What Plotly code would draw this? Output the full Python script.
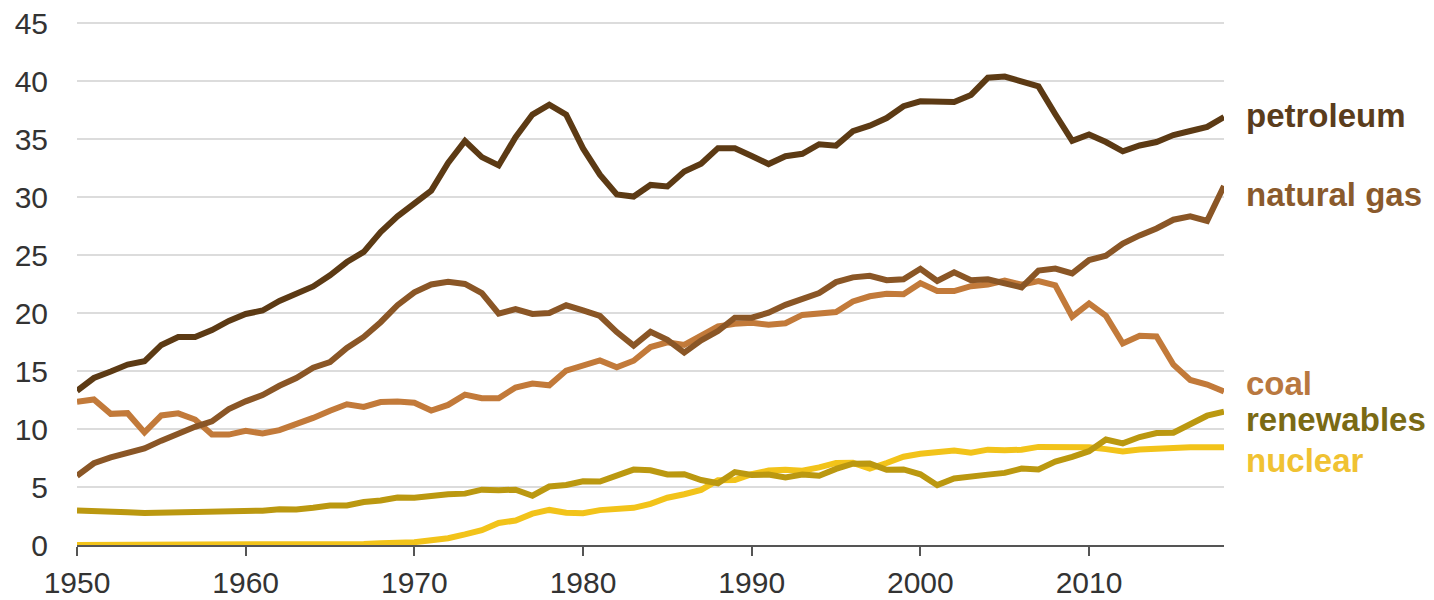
import plotly.graph_objects as go

years = list(range(1950, 2019))

petroleum = [13.3, 14.4, 14.96, 15.56, 15.84, 17.25, 17.94, 17.93, 18.53, 19.32,
             19.92, 20.22, 21.05, 21.70, 22.30, 23.25, 24.40, 25.28, 26.98, 28.34,
             29.52, 30.56, 32.95, 34.84, 33.45, 32.73, 35.17, 37.12, 37.97, 37.12,
             34.20, 31.93, 30.23, 30.05, 31.05, 30.92, 32.20, 32.87, 34.22, 34.21,
             33.55, 32.85, 33.53, 33.74, 34.56, 34.44, 35.68, 36.16, 36.82, 37.84,
             38.26, 38.19, 38.20, 38.81, 40.29, 40.39, 39.95, 39.55, 37.15, 34.85,
             35.40, 34.75, 33.95, 34.45, 34.75, 35.35, 35.70, 36.05, 36.90]

natural_gas = [5.97, 7.05, 7.55, 7.91, 8.33, 9.00, 9.61, 10.19, 10.66, 11.72,
               12.39, 12.93, 13.73, 14.40, 15.29, 15.77, 17.00, 17.94, 19.21, 20.68,
               21.79, 22.47, 22.70, 22.51, 21.73, 19.95, 20.35, 19.93, 20.00, 20.67,
               20.24, 19.75, 18.36, 17.20, 18.38, 17.70, 16.59, 17.64, 18.45, 19.60,
               19.60, 20.03, 20.71, 21.23, 21.73, 22.67, 23.08, 23.22, 22.83, 22.91,
               23.82, 22.77, 23.51, 22.83, 22.91, 22.56, 22.22, 23.66, 23.84, 23.42,
               24.57, 24.95, 26.00, 26.70, 27.30, 28.05, 28.35, 27.95, 30.96]

coal = [12.35, 12.55, 11.31, 11.37, 9.71, 11.17, 11.35, 10.82, 9.53, 9.52,
        9.84, 9.62, 9.91, 10.41, 10.96, 11.58, 12.14, 11.91, 12.33, 12.38,
        12.27, 11.60, 12.08, 12.97, 12.66, 12.66, 13.58, 13.92, 13.77, 15.04,
        15.42, 15.91, 15.32, 15.89, 17.07, 17.48, 17.26, 18.01, 18.85, 19.07,
        19.17, 18.99, 19.12, 19.84, 19.91, 20.09, 21.00, 21.45, 21.66, 21.62,
        22.58, 21.91, 21.90, 22.32, 22.47, 22.80, 22.45, 22.75, 22.39, 19.69,
        20.83, 19.76, 17.38, 18.04, 17.99, 15.55, 14.23, 13.84, 13.24]

renewables = [2.98, 2.96, 2.94, 2.83, 2.75, 2.78, 2.85, 2.85, 2.88, 2.86,
              2.93, 2.96, 3.09, 3.07, 3.21, 3.40, 3.41, 3.70, 3.84, 4.10,
              4.08, 4.27, 4.38, 4.43, 4.77, 4.72, 4.77, 4.25, 5.04, 5.17,
              5.49, 5.47, 5.99, 6.50, 6.44, 6.08, 6.11, 5.60, 5.32, 6.29,
              6.04, 6.07, 5.82, 6.08, 5.97, 6.56, 7.01, 7.02, 6.49, 6.52,
              6.10, 5.16, 5.73, 5.94, 6.07, 6.22, 6.59, 6.52, 7.19, 7.60,
              8.09, 9.10, 8.76, 9.31, 9.66, 9.68, 10.36, 11.15, 11.50]

nuclear = [0.0, 0.0, 0.0, 0.0, 0.0, 0.0, 0.0, 0.0001, 0.002, 0.002,
           0.006, 0.020, 0.026, 0.038, 0.040, 0.043, 0.064, 0.088, 0.142, 0.154,
           0.239, 0.413, 0.584, 0.910, 1.272, 1.900, 2.111, 2.702, 3.024, 2.776,
           2.739, 3.008, 3.131, 3.203, 3.553, 4.076, 4.380, 4.754, 5.587, 5.602,
           6.104, 6.422, 6.479, 6.410, 6.694, 7.075, 7.087, 6.597, 7.068, 7.610,
           7.862, 8.029, 8.145, 7.960, 8.223, 8.161, 8.215, 8.459, 8.426, 8.356,
           8.434, 8.269, 8.062, 8.244, 8.338, 8.337, 8.427, 8.419, 8.438]

series_names = ["nuclear", "renewables", "coal", "natural gas", "petroleum"]
series_values = [nuclear, renewables, coal, natural_gas, petroleum]
line_colors = ["#f2c31a", "#bb9810", "#c27a3a", "#8a5626", "#5c3a14"]
label_colors = ["#f0c232", "#7a6a14", "#b9783f", "#8a5a2c", "#5a3c1c"]
label_y = [7.3, 10.8, 13.9, 30.2, 37.0]

tick_years = [1950, 1960, 1970, 1980, 1990, 2000, 2010]
tick_y = [0, 5, 10, 15, 20, 25, 30, 35, 40, 45]

fig = go.Figure()
for name, vals, col in zip(series_names, series_values, line_colors):
    fig.add_trace(go.Scatter(x=years, y=vals, name=name, mode="lines",
                             line=dict(color=col, width=6),
                             showlegend=False, cliponaxis=False))

for name, ly, col in zip(series_names, label_y, label_colors):
    fig.add_annotation(x=2018, y=ly, xref="x", yref="y", text=name,
                       showarrow=False, xanchor="left", yanchor="middle",
                       xshift=20,
                       font=dict(family="Liberation Sans, Arial, sans-serif",
                                 size=33, color=col, weight="bold"))

fig.update_layout(
    width=1418, height=592,
    margin=dict(l=69, r=202, t=14, b=55),
    paper_bgcolor="white", plot_bgcolor="white",
    font=dict(family="Liberation Sans, Arial, sans-serif", size=30, color="#333333"),
)
fig.update_xaxes(range=[1950, 2018], tickvals=tick_years, automargin=False,
                 showgrid=False, zeroline=False,
                 showline=True, linecolor="#555555", linewidth=2,
                 ticks="outside", ticklen=9, tickwidth=2, tickcolor="#555555",
                 ticklabelstandoff=1, ticklabeloverflow="allow",
                 tickfont=dict(size=30, color="#333333"))
fig.update_yaxes(range=[0, 45.1], tickvals=tick_y, automargin=False,
                 showgrid=True, gridcolor="#dcdcdc", gridwidth=2,
                 zeroline=False, showline=False, ticks="",
                 ticklabelstandoff=28, ticklabeloverflow="allow",
                 tickfont=dict(size=30, color="#333333"))

fig.write_html("out.html")
